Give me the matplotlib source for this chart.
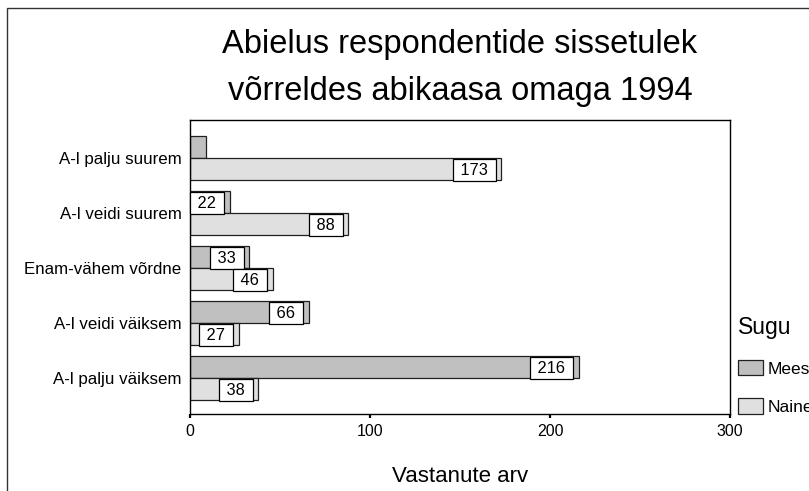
import numpy as np
import matplotlib
matplotlib.use("Agg")
import matplotlib.pyplot as plt
from matplotlib.patches import Rectangle, Patch

plt.rcParams["font.family"] = ["Liberation Sans", "DejaVu Sans"]

# data
categories = ["A-l palju suurem", "A-l veidi suurem", "Enam-vähem võrdne",
              "A-l veidi väiksem", "A-l palju väiksem"]
mees = [9, 22, 33, 66, 216]
naine = [173, 88, 46, 27, 38]
series_names = ["Mees", "Naine"]
colors = ["#c0c0c0", "#e0e0e0"]
xticks = [0, 100, 200, 300]

W, H = 809, 491
fig = plt.figure(figsize=(W / 100, H / 100), dpi=100)
ax = fig.add_axes([190 / W, 1 - 414 / H, 540 / W, 294 / H])

y = np.arange(len(categories))
bar_h = 0.4
for vals, off, col in [(mees, -bar_h / 2, colors[0]), (naine, bar_h / 2, colors[1])]:
    ax.barh(y + off, vals, height=bar_h, color=col, edgecolor="#202020", linewidth=0.9)
    for yy, v in zip(y + off, vals):
        if v < 15:
            continue
        ax.annotate(f" {v} ", xy=(v, yy), xytext=(-6.5, -0.8), textcoords="offset points",
                    ha="right", va="center", fontsize=11.8,
                    bbox=dict(boxstyle="square,pad=0.2", fc="white", ec="black", lw=0.9))

ax.set_xlim(0, 300)
ax.set_ylim(len(categories) - 1 + 0.655, -0.69)
ax.set_xticks(xticks)
ax.set_yticks(y)
ax.set_yticklabels(categories)
ax.tick_params(axis="y", length=0, pad=6, labelsize=12.2)
ax.tick_params(axis="x", direction="out", length=3, width=1.6, pad=4, labelsize=11.5)
for s in ax.spines.values():
    s.set_linewidth(1.0)

ax.set_xlabel("Vastanute arv", fontsize=16, labelpad=20)
ax.set_title("Abielus respondentide sissetulek\nvõrreldes abikaasa omaga 1994",
             fontsize=23.5, linespacing=1.69, pad=14.3)

handles = [Patch(facecolor=c, edgecolor="#202020", linewidth=0.9) for c in colors]
leg = fig.legend(handles, series_names, title="Sugu", loc="upper left",
                 bbox_to_anchor=(738 / W, 1 - 316 / H), bbox_transform=fig.transFigure,
                 frameon=False, fontsize=12.5, title_fontsize=16.5, alignment="left",
                 handlelength=1.45, handleheight=1.0, handletextpad=0.25,
                 labelspacing=1.25, borderpad=0, borderaxespad=0)
leg._legend_box.sep = 15

# outer frame, cut off at right and bottom like the original
fig.patches.append(Rectangle((7.5 / W, -0.1), 1.2, 1.1 - 7.5 / H, transform=fig.transFigure,
                             fill=False, edgecolor="#333333", linewidth=1.0))

fig.savefig("out.png", dpi=100)
